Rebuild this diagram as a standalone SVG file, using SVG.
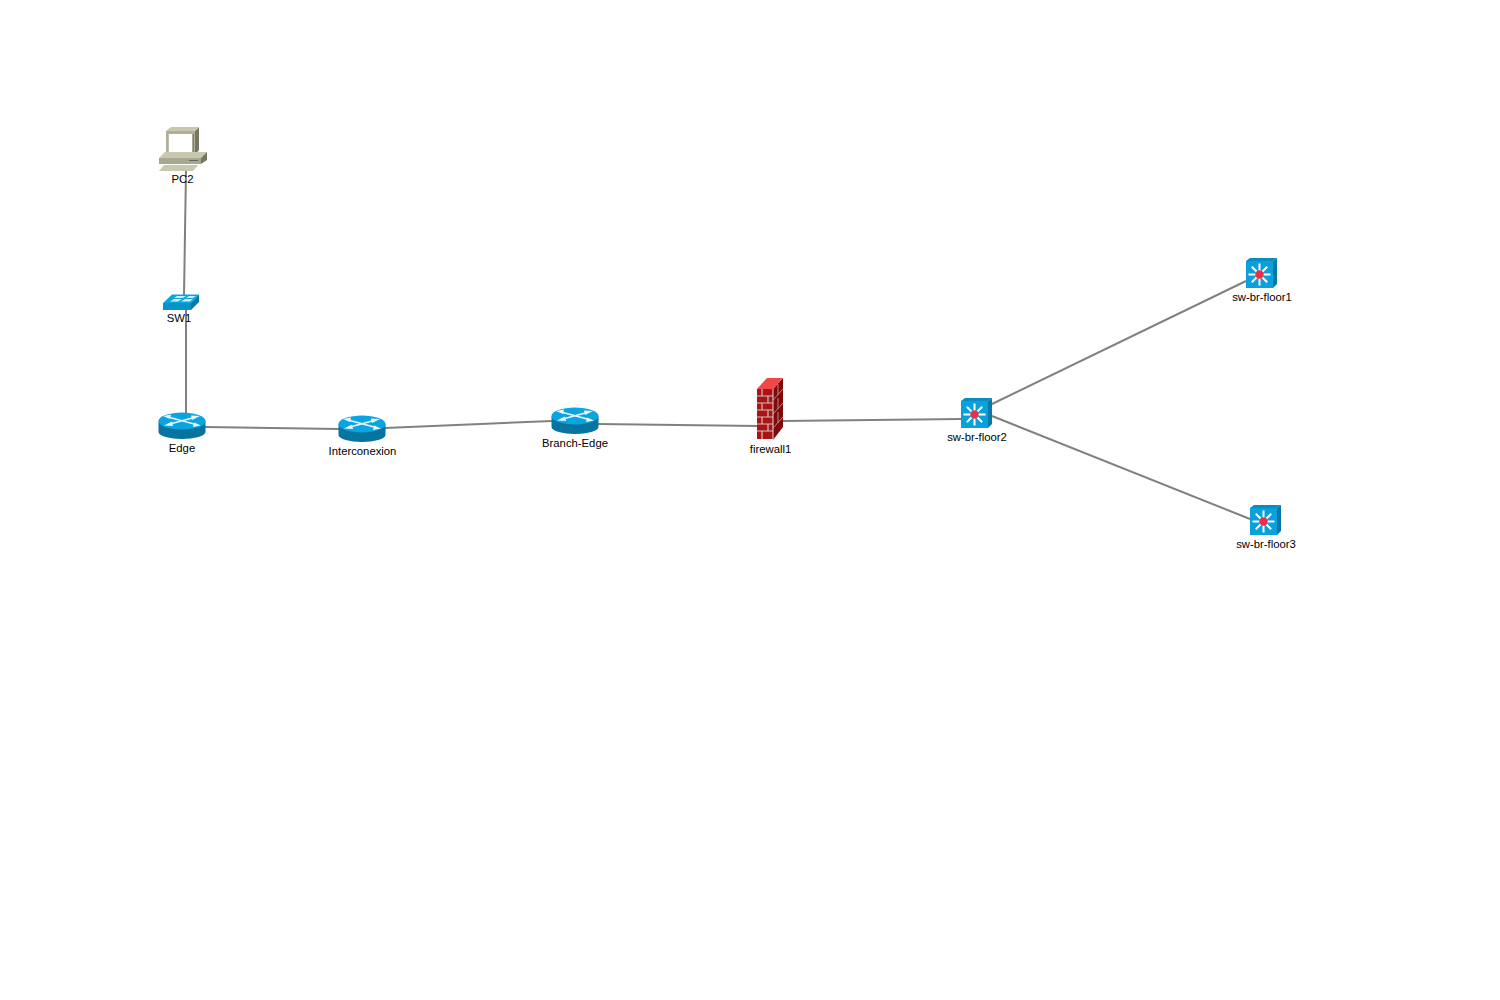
<svg xmlns="http://www.w3.org/2000/svg" width="1500" height="1000" viewBox="0 0 1500 1000">
<style>
text{font-family:"Liberation Sans",Arial,sans-serif;font-size:11.300px;fill:#000;text-anchor:middle}
.link{stroke:#808080;stroke-width:2;fill:none}
</style>
<defs>
<g id="router">
<path d="M-23.500 -5V6C-23.500 10 -12 13 0 13S23.500 10 23.500 6V-5Z" fill="#06749f"/>
<ellipse cx="0" cy="-5" rx="23.500" ry="8.500" fill="#0aa5e0"/>
<path d="M-14 -9L14 -1.500M-14 -1.500L14 -9" stroke="#e8f6fc" stroke-width="1.800" fill="none"/>
<path d="M-19 -10L-11 -11.500L-12 -7ZM19 -.5L11 1L12 -3.500ZM-18 -.5L-10 -4.500L-9 0ZM18 -10L10 -6L9 -10.500Z" fill="#e8f6fc"/>
</g>
<g id="mls">
<path d="M27 3L31 0V26L27 30Z" fill="#0679a8"/>
<path d="M0 3L4 0H31L27 3Z" fill="#0a8cc0"/>
<rect x="0" y="3" width="27" height="27" fill="#0aa0dc"/>
<g stroke="#fff" stroke-width="2">
<path d="M2.500 16.500H24.500M13.500 5.500V27.500M5.800 8.800L21.200 24.200M21.200 8.800L5.800 24.200"/>
</g>
<circle cx="13.500" cy="16.500" r="4.200" fill="#e8304a"/>
</g>
</defs>
<g id="connectors">
<line class="link" x1="186" y1="170" x2="184" y2="296"/>
<line class="link" x1="186" y1="310" x2="186" y2="415"/>
<line class="link" x1="205" y1="427" x2="340" y2="429"/>
<line class="link" x1="385" y1="428" x2="552" y2="421"/>
<line class="link" x1="598" y1="424" x2="758" y2="426"/>
<line class="link" x1="783" y1="421" x2="961" y2="419"/>
<line class="link" x1="990" y1="405" x2="1246" y2="281"/>
<line class="link" x1="992" y1="416" x2="1250" y2="519"/>
</g>
<g id="PC2">
<path d="M195 131L199 127V150L195 155Z" fill="#77775f"/>
<path d="M166 131L171 127H199L195 131Z" fill="#c8c8ae"/>
<rect x="166" y="131" width="29" height="24" fill="#b0b098"/>
<rect x="168.500" y="134" width="25" height="20" fill="#4e4e40"/>
<rect x="168.500" y="134" width="24" height="18.500" fill="#fff"/>
<path d="M159 158L165 152H207L201 158Z" fill="#c8c8ae"/>
<path d="M201 158L207 152V160L201 164Z" fill="#77775f"/>
<rect x="159" y="158" width="42" height="6" fill="#a8a890"/>
<path d="M189 160H198V161H189Z" fill="#66665a"/>
<path d="M164 165H198L193 171H159Z" fill="#c8c8ae"/>
<text x="182.500" y="183">PC2</text>
</g>
<g id="SW1">
<path d="M163 303L172 294.500H199L191 303Z" fill="#0aa5e0"/>
<path d="M191 303L199 294.500V302L191 310Z" fill="#0679a8"/>
<rect x="163" y="303" width="28" height="7" fill="#0892c8"/>
<path d="M170 301.500L174 299H182L178 301.500ZM181 301.500L185 299H193L190 301.500ZM174 298L177 296H186L183 298ZM186 298L189 296H196L193 298Z" fill="#cfeefa"/>
<text x="179" y="322">SW1</text>
</g>
<g id="Edge">
<use href="#router" x="182" y="426"/>
<text x="182" y="452">Edge</text>
</g>
<g id="Interconexion">
<use href="#router" x="362" y="429"/>
<text x="362.500" y="455">Interconexion</text>
</g>
<g id="Branch-Edge">
<use href="#router" x="575" y="421"/>
<text x="575" y="447">Branch-Edge</text>
</g>
<g id="firewall1">
<path d="M773 389L783 378V427L773 440Z" fill="#800808"/>
<path d="M757 389L767 378H783L773 389Z" fill="#f04848"/>
<rect x="757" y="389" width="16" height="50" fill="#ac1414"/>
<path d="M757 396H773M757 403H773M757 410H773M757 417H773M757 424H773M757 431H773M762 389V396M768 396V403M762 403V410M768 410V417M762 417V424M768 424V431M762 431V439" stroke="#d0c0c0" stroke-width="1.200" fill="none"/>
<path d="M773 400L783 389M773 414L783 403M773 428L783 417M778 384V395M778 398V409M778 412V423" stroke="#b88888" stroke-width="1" fill="none"/>
<path d="M773 389V440" stroke="#d8d8d8" stroke-width="1"/>
<text x="770.500" y="453">firewall1</text>
</g>
<g id="sw-br-floor2">
<use href="#mls" x="961" y="398"/>
<text x="977" y="441">sw-br-floor2</text>
</g>
<g id="sw-br-floor1">
<use href="#mls" x="1246" y="258"/>
<text x="1262" y="301">sw-br-floor1</text>
</g>
<g id="sw-br-floor3">
<use href="#mls" x="1250" y="505"/>
<text x="1266" y="548">sw-br-floor3</text>
</g>
</svg>
